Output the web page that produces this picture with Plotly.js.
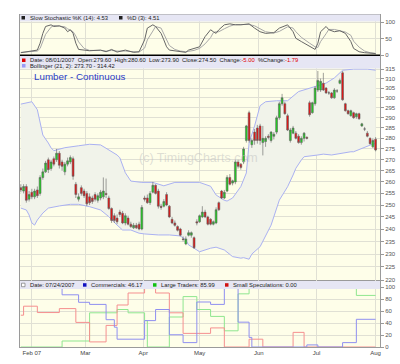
<!DOCTYPE html>
<html><head><meta charset="utf-8">
<script src="https://cdn.plot.ly/plotly-3.0.1.min.js"></script>
<style>html,body{margin:0;padding:0;background:#fff}#c{width:400px;height:364px}</style>
</head><body><div id="c"></div>
<script>
// ---- Data ----
const monthIdx = [4, 23.5, 44.5, 65, 86.5, 107.5, 129];
const monthLbl = ['Feb 07', 'Mar', 'Apr', 'May', 'Jun', 'Jul', 'Aug'];

const open = [
257.5,256,258,252.5,255.5,253.5,256.5,255,262,264.5,
270,266,270.5,270,273,269,264.5,268,269,270.5,
259,252.5,257.5,256,255,253.5,253,254.5,252,253,
253.5,255,253,248.5,245.5,244.5,247,246.5,242.5,244.5,
242,240.5,241.5,242,240,253,253,251,255.5,258.5,
256,249.5,249.5,254.5,249.5,244,242.5,241,240,236,
234,237.5,237.5,236.5,243,243,245,247,245,244,
242,242.5,251,256,253,256,262,259.5,260,269,
268,269,279,292.5,277,283,285,286,278,278.5,
281,279,281,283,290,297,297,291,279,282.5,
282.5,281,278,280,280.5,297.5,292.5,297,304,304,
307.5,305,302.5,302.5,300,303.5,307.5,313,297,293.5,
291,292.5,290.5,292,286,284.5,282.5,280,276,279.6];
const high = [
259,259,259,256,257,257,258,263,266,269.5,
271,270,271.5,275,274,270,269,271,272,271.5,
260,255,258.5,257,256,255,254,255.5,255,256.5,
262,261.5,254,249,246.5,246,248,247.5,246.5,245.5,
243,242.5,242.5,243,250,254,254.5,256,260,259,
257,250.5,252.5,255.5,250,245,243.5,241.5,240.5,237,
237,239.5,239,237,244,246,249.5,248,245.5,244.5,
243.5,249,251.5,256.5,256.5,263,263.5,261,270,270,
268.5,276,286.5,293.5,280,284.5,286.5,287,286,281,
282,283.5,283,291,298,302,298,292,285,286,
283.5,282,281,283,281,298.5,298,306,314,310,
313,305.5,303.5,303,305,304.5,310,314,297.5,294,
294,293,292.5,292.5,287.5,285.5,283.5,280.5,280,280.6];
const low = [
255.5,255,251,251.5,252.5,252.5,253,254,261,264,
264,265,267,269,266,265,263,267,268,261,
253,251.5,254,253,249.5,250,250.5,251.5,251,252,
252.5,253,248,242.5,242.5,242,245,242,241.5,241.5,
240.5,240,240,239.5,239.5,251.5,250.5,250,255,254.5,
248.5,248,249,249.5,244.5,242,241,239,237,235,
233.5,237,236.5,232,241.5,242.5,244.5,244.5,241.5,241.5,
241.5,242,247.5,252.5,252.5,255.5,258.5,258.5,259,266,
265.5,268,278,278,275.5,277,277.5,277,272,276,
279.5,278,279.5,282,289,296,291.5,283.5,278,282,
279.5,277.5,277,278.5,279.5,290.5,292,296,303,303,
303.5,302,301.5,299.5,299.5,302.5,307,298.5,293,291.5,
290.5,289.5,289.5,289,285.5,283.5,280.5,277,275.5,273.9];
const close = [
256.5,258,252,254.5,253.5,256,254,262,264.5,268.5,
265.5,269,268,273,267.5,267,268,269.5,271,262.5,
254.5,253.5,255,254,250.5,251,251.5,252.5,254,255.5,
256,254.5,248.5,243.5,243.5,243,246,242.5,245.5,242,
241,241.5,240.5,240,249,252.5,251,255,258.5,255,
249.5,249,251.5,250,245,242.5,241.5,239.5,237.5,235.8,
236,238.5,238.5,232.5,242.5,245.5,247,245,242,242,
243,248,248,253,255.5,262,259,260.5,269,267,
266.5,275,286,279,279,279,279,279,280,280,
280.5,283,282,290,297,300,292,284,284,285,
280,278,280,282.5,280,291.5,297.5,305,309,308.5,
304,302.5,302.5,300,304,303.5,309,299,293.5,292,
293.5,290,292,289.5,287,284.5,281,277.5,279,274.5];
const dayIdx = open.map((_, i) => i);

const bbUx = [0,3,4,6,7,8,10,11,12,16,21,25,29,32,35,36,37,38,40,44,48,52,56,60,63,65,69,71,74,75,77,80,82,83,85,87,89,93,97,101,107,111,114,117,121,126,129];
const bbU  = [296.8,297.5,298,294,288,281.6,277.8,275.5,274.2,275.6,276.5,277.2,276.9,274.5,272.2,270.9,267.7,264.1,260.4,259.8,259.8,258.3,259.8,259.8,260.1,259.8,258.1,254.3,252,251.7,253,258,264,277.8,286,296,298,298.5,298.5,303.2,305.8,307.6,310.3,314.4,315,315,314.4];
const bbLx = [0,2,3,4,5,6,8,10,14,18,21,25,29,32,35,37,40,43,45,50,54,58,60,61,63,65,69,71,74,77,80,81,83,84,87,89,91,94,97,99,100,102,103,108,110,113,117,120,121,124,127,129];
const bbL  = [248.7,247.9,245.8,242.5,241.6,243.7,246.6,248.7,249.6,250.3,250.3,249.3,247.9,245.1,241.6,239.6,239.6,238.3,238.0,237.6,237.6,237.2,235.6,233.6,232.3,230.9,232.3,232.7,231.6,229.0,228.4,228.6,228.0,230.0,232.9,236.9,241.6,252.1,257.9,263.1,266.1,269.9,271.4,272.2,272.6,272.2,273.2,273.7,273.7,275.3,276.8,277.6];

const stochX = [0,3,6,7,8,9,11,12,14,16,17,18,19,20,21,23,25,29,31,33,35,38,40,41,43,45,46,48,49,51,52,53,54,56,58,60,61,63,65,67,69,70,71,72,74,76,78,80,83,85,87,89,92,94,97,99,100,102,105,107,108,109,111,112,114,116,118,120,121,123,125,127,129];
const stochK = [7,10,15,36,66,87,92,87,89,82,71,77,66,36,17,15,13,15,10,17,9,15,9,8,10,46,82,92,87,66,46,25,15,13,10,8,15,20,25,56,77,71,66,77,92,95,92,92,95,82,71,66,68,82,92,71,51,41,25,17,36,71,87,77,71,74,66,41,20,10,7,5,4.53];
const stochD = [8,9,12,20,39,63,85,90,88,86,80,76,71,58,40,20,14,14,12,14,12,12,11,10,9,21,46,73,87,82,66,46,29,17,12,10,11,14,20,34,53,68,71,71,80,88,93,93,93,89,80,71,67,72,86,82,71,54,36,25,23,41,65,78,78,74,70,60,42,24,12,7,4.51];

const commX  = [0,15,21,25,31,34,35,45,49,54,59,64,69,74,79,83,84,104,108,117,122,129];
const comm   = [100,87,74.5,71,45.5,33,13,44,62.5,20.4,7.3,75,71,100,41.4,16,0,3.5,0,7.3,46.17,46.17];
const largeX = [0,15,25,35,39,45,46,54,59,64,69,74,79,83,117,122,129];
const large  = [0,10,57,62.5,57,44,0,50,84,62.5,51,27,88.6,100,98,85.99,85.99];
const smallX = [0,1,6,14,20,25,31,35,39,45,49,54,59,69,74,83,88,99,103,129];
const small  = [53,68,57.4,64,41,8.5,36,70,90,100,90,57,22.7,31.8,0,13,0,24.4,0,0];

const mainTicks = [];
for (let v = 220; v <= 315; v += 5) mainTicks.push(v);

// ---- Layout helpers (pixel -> paper) ----
const PL = 20, PR = 380, PT = 14, PB = 347;
const px = x => (x - PL) / (PR - PL);
const py = y => (PB - y) / (PB - PT);

const FONT = 'Liberation Sans, Arial, sans-serif';
const grid = '#e0e0d4';
const mainRange = [Math.log10(219.7), Math.log10(322.1)];

const traces = [
  {type:'scatter', x:bbLx, y:bbL, xaxis:'x2', yaxis:'y2', mode:'lines',
   line:{color:'#aab1f2', width:1}, hoverinfo:'skip'},
  {type:'scatter', x:bbUx, y:bbU, xaxis:'x2', yaxis:'y2', mode:'lines', fill:'tonexty',
   fillcolor:'#f1f3ea', line:{color:'#aab1f2', width:1}, hoverinfo:'skip'},
  {type:'candlestick', x:dayIdx, open:open, high:high, low:low, close:close,
   xaxis:'x4', yaxis:'y4', whiskerwidth:0,
   increasing:{line:{color:'#606060', width:0.6}, fillcolor:'#1ed21e'},
   decreasing:{line:{color:'#606060', width:0.6}, fillcolor:'#e81010'}, hoverinfo:'skip'},
  {type:'scatter', x:stochX, y:stochD, xaxis:'x3', yaxis:'y3', mode:'lines',
   line:{color:'#a8a8a8', width:1}, hoverinfo:'skip'},
  {type:'scatter', x:stochX, y:stochK, xaxis:'x3', yaxis:'y3', mode:'lines',
   line:{color:'#666666', width:1}, hoverinfo:'skip'},
  {type:'scatter', x:largeX, y:large, mode:'lines', line:{color:'#8fe68f', width:1, shape:'hv'}, hoverinfo:'skip'},
  {type:'scatter', x:smallX, y:small, mode:'lines', line:{color:'#f58f8f', width:1, shape:'hv'}, hoverinfo:'skip'},
  {type:'scatter', x:commX, y:comm, mode:'lines', line:{color:'#8f8ff0', width:1, shape:'hv'}, hoverinfo:'skip'}
];

const xbase = {range:[-0.3, 130.6], tickvals:monthIdx, ticktext:monthLbl, showgrid:true, gridcolor:grid,
  zeroline:false, showline:true, mirror:true, linecolor:'#9a9a9a', linewidth:1, fixedrange:true};
const ybase = {side:'right', showgrid:true, gridcolor:grid, zeroline:false, showline:true, mirror:true,
  linecolor:'#9a9a9a', ticks:'outside', ticklen:3, tickcolor:'#999',
  tickfont:{family:FONT, size:6, color:'#555'}, fixedrange:true};

function rect(x0, y0, x1, y1, fill, line) {
  return {type:'rect', xref:'paper', yref:'paper', x0:px(x0), x1:px(x1), y0:py(y1), y1:py(y0),
    fillcolor:fill, line:{color: line || fill, width: line ? 0.7 : 0}, layer:'above'};
}
function ann(text, x, y, size, color) {
  return {text:text, xref:'paper', yref:'paper', x:px(x), y:py(y), xanchor:'left', yanchor:'middle',
    showarrow:false, font:{family:FONT, size:size || 5.8, color:color || '#222'}};
}
const NB = '\u00a0\u00a0';
const layout = {
  width:400, height:364, margin:{l:PL, r:400-PR, t:PT, b:364-PB},
  paper_bgcolor:'#ffffff', plot_bgcolor:'#fefee9', showlegend:false, boxgap:0.05,
  xaxis: Object.assign({}, xbase, {anchor:'y', tickfont:{family:FONT, size:6, color:'#444'}, ticks:''}),
  xaxis2: Object.assign({}, xbase, {anchor:'y2', matches:'x', showticklabels:false, rangeslider:{visible:false}}),
  xaxis3: Object.assign({}, xbase, {anchor:'y3', matches:'x', showticklabels:false}),
  xaxis4: {overlaying:'x2', anchor:'y4', matches:'x', visible:false, showgrid:false, rangeslider:{visible:false}, fixedrange:true},
  yaxis: Object.assign({}, ybase, {domain:[0, py(281)], range:[0, 110], tickvals:[0,20,40,60,80,100]}),
  yaxis2: Object.assign({}, ybase, {domain:[py(281), py(56)], type:'log', range:mainRange, tickvals:mainTicks}),
  yaxis3: Object.assign({}, ybase, {domain:[py(55), py(15)], range:[0, 122], tickvals:[0,50,100]}),
  yaxis4: {overlaying:'y2', anchor:'x4', type:'log', range:mainRange, visible:false, showgrid:false, fixedrange:true},
  shapes: [
    rect(20, 14.5, 380, 21.5, '#e6e6f4'),
    rect(20, 56, 380, 68.5, '#e6e6f4'),
    rect(20, 281, 380, 289, '#e6e6f4'),
    {type:'line', xref:'paper', yref:'paper', x0:0, x1:1, y0:py(55.3), y1:py(55.3), line:{color:'#000', width:1.6}, layer:'above'},
    rect(21.5, 16, 25, 19.5, '#202020'),
    rect(119, 16, 122.5, 19.5, '#202020'),
    rect(22, 58.5, 25.5, 62, '#e00000'),
    rect(22, 64, 25.5, 67.5, '#9a9af5'),
    rect(21.5, 283.2, 25, 286.7, '#ffffff', '#777'),
    rect(83, 283.2, 86.5, 286.7, '#1010c0'),
    rect(153, 283.2, 156.5, 286.7, '#10c010'),
    rect(225, 283.2, 228.5, 286.7, '#d01010')
  ],
  annotations: [
    ann('Slow Stochastic %K (14): 4.53', 28, 18.2),
    ann('%D (3): 4.51', 125, 18.2),
    ann('Date: 08/01/2007' + NB + 'Open:279.60' + NB + 'High:280.60' + NB + 'Low:273.90' + NB + 'Close:274.50' + NB +
        'Change:<span style="color:#e00000">-5.00</span>' + NB + '%Change:<span style="color:#e00000">-1.79</span>', 28, 60.4),
    ann('Bollinger (21, 2): 273.70 - 314.42', 28, 65.8),
    ann('Lumber - Continuous', 31.5, 76, 9.8, '#2b3cc6'),
    {text:'(c) TimingCharts.com', xref:'paper', yref:'paper', x:px(198), y:py(157.5), xanchor:'center', yanchor:'middle',
     showarrow:false, font:{family:FONT, size:12.5, color:'rgba(190,190,190,0.5)'}},
    ann('Date: 07/24/2007', 28, 285.1),
    ann('Commercials: 46.17', 89, 285.1),
    ann('Large Traders: 85.99', 159, 285.1),
    ann('Small Speculations: 0.00', 231, 285.1)
  ]
};
Plotly.newPlot('c', traces, layout, {staticPlot:true, displayModeBar:false});
</script>
</body></html>
